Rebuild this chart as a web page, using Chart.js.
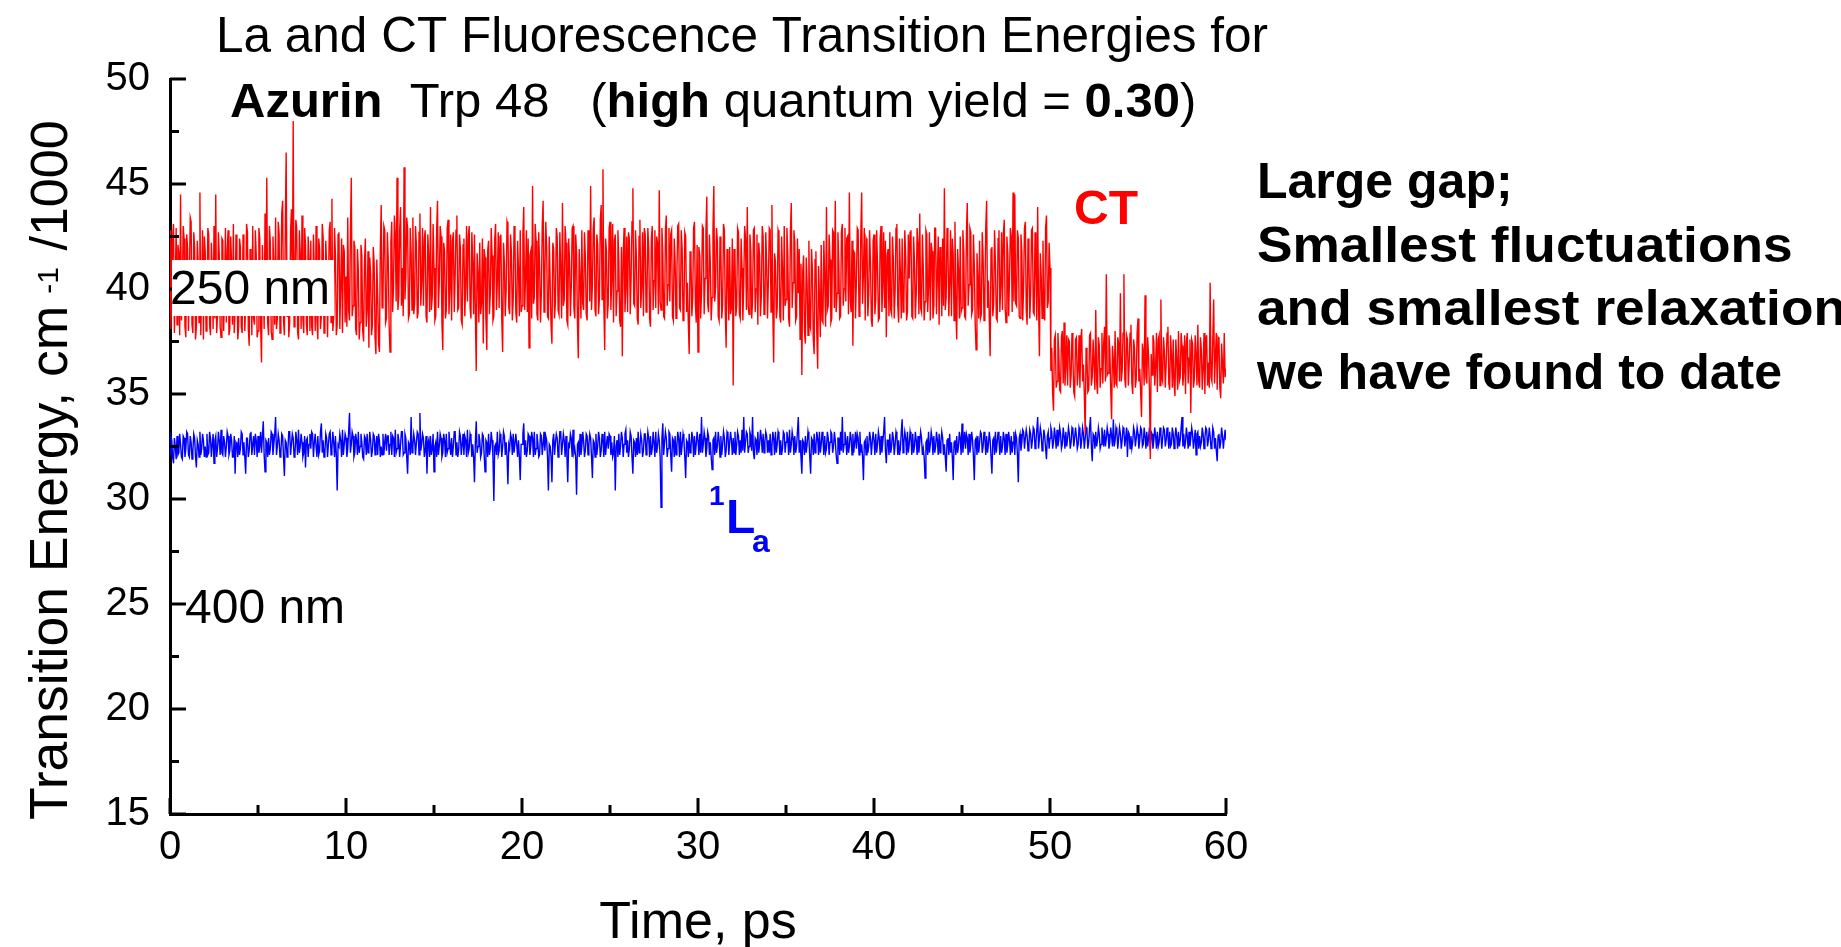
<!DOCTYPE html>
<html>
<head>
<meta charset="utf-8">
<title>La and CT Fluorescence Transition Energies</title>
<script src="https://cdn.jsdelivr.net/npm/chart.js@4.4.0/dist/chart.umd.min.js"></script>
<style>
	html, body { margin: 0; padding: 0; background: #fff; }
	canvas { display: block; }
</style>
</head>
<body>
<canvas id="myChart" width="1841" height="947"></canvas>
<script>
const FONT = "'Liberation Sans', Arial, sans-serif"

const timeStep = 0.05
const xTicks = [0, 10, 20, 30, 40, 50, 60]
const xMinorTicks = [5, 15, 25, 35, 45, 55]
const yTicks = [15, 20, 25, 30, 35, 40, 45, 50]
const yMinorTicks = [17.5, 22.5, 27.5, 32.5, 37.5, 42.5, 47.5]

// CT transition energy (cm-1 / 1000), one value every 0.05 ps, 2 ps per line
const ctValues = [
	42.8, 38.1, 39.6, 42.5, 43.1, 37.9, 40.2, 42.9, 38.3, 42.1, 41.7, 37.8, 44.5, 38.5, 39.8, 43.0, 42.4, 38.2, 37.7, 42.6, 41.9, 38.0, 40.5, 43.4, 43.2, 38.3, 37.9, 42.7, 42.0, 37.6, 38.2, 42.3, 41.3, 38.4, 44.6, 37.8, 40.0, 42.8, 37.6, 42.5,
	41.8, 38.0, 39.2, 42.9, 42.6, 38.3, 37.8, 42.2, 40.9, 38.1, 43.0, 38.6, 44.5, 37.9, 38.7, 42.7, 41.6, 38.2, 37.7, 42.4, 42.3, 38.0, 40.1, 42.9, 38.4, 41.8, 42.8, 37.8, 38.1, 42.5, 41.2, 38.3, 43.1, 37.9, 39.0, 42.6, 40.6, 37.6, 38.2, 42.4,
	42.0, 38.2, 37.9, 42.6, 41.5, 38.0, 39.3, 43.1, 42.7, 38.1, 37.3, 41.9, 40.8, 37.8, 43.0, 38.6, 38.3, 42.8, 41.6, 37.7, 38.0, 42.9, 42.4, 38.2, 36.5, 42.1, 40.3, 38.1, 43.6, 39.0, 45.3, 38.4, 37.8, 43.0, 42.2, 38.0, 37.6, 42.5, 41.0, 38.3,
	43.4, 38.1, 38.6, 43.2, 42.6, 37.9, 40.1, 43.6, 44.2, 38.5, 37.8, 42.8, 46.5, 38.7, 41.2, 37.7, 38.4, 42.7, 43.8, 38.9, 48.0, 38.2, 40.4, 43.3, 42.9, 38.0, 37.6, 42.8, 41.7, 38.1, 43.5, 38.6, 37.9, 42.9, 42.1, 38.3, 37.8, 42.5, 41.4, 38.0,
	42.3, 38.2, 37.8, 42.6, 40.8, 38.0, 43.0, 38.5, 37.6, 42.4, 41.9, 38.1, 38.7, 43.1, 42.5, 37.9, 38.3, 42.3, 41.1, 37.7, 40.0, 42.8, 43.2, 38.4, 44.3, 38.0, 38.6, 42.9, 41.6, 37.8, 38.3, 42.6, 42.7, 38.1, 40.2, 42.4, 37.9, 42.1, 41.8, 38.4,
	40.6, 38.2, 43.4, 39.0, 38.5, 42.6, 45.3, 38.7, 39.2, 42.3, 42.0, 38.1, 37.8, 41.9, 40.9, 37.6, 38.4, 42.1, 41.6, 38.0, 37.5, 41.3, 42.4, 38.2, 39.0, 41.8, 37.2, 41.5, 40.7, 37.8, 38.3, 42.0, 41.2, 37.7, 36.9, 41.4, 39.6, 37.4, 37.0, 41.9,
	44.0, 39.1, 39.5, 43.0, 42.8, 38.4, 38.6, 42.7, 41.4, 38.3, 37.0, 42.2, 43.2, 38.9, 40.1, 43.5, 42.6, 39.4, 45.3, 39.0, 39.7, 42.8, 43.9, 39.2, 41.0, 38.7, 45.8, 39.5, 40.6, 43.4, 42.9, 38.6, 38.8, 42.9, 41.7, 39.0, 43.4, 38.8, 39.3, 43.0,
	42.1, 38.6, 38.9, 42.7, 43.6, 39.2, 40.4, 42.9, 39.2, 42.4, 42.8, 38.7, 38.4, 42.6, 41.5, 38.9, 43.9, 39.0, 39.6, 43.1, 41.0, 38.5, 38.7, 42.8, 44.2, 39.1, 40.3, 43.0, 42.5, 38.4, 37.1, 42.2, 41.8, 38.6, 39.0, 42.9, 43.3, 38.8, 40.0, 42.6,
	38.5, 42.3, 42.7, 38.9, 40.6, 42.8, 43.5, 39.0, 39.1, 42.6, 41.9, 38.5, 38.3, 42.1, 42.4, 38.7, 40.2, 43.0, 39.4, 42.5, 43.0, 39.1, 38.6, 42.7, 41.3, 38.8, 42.6, 38.9, 36.1, 41.7, 40.8, 38.4, 42.2, 38.8, 39.3, 42.4, 37.4, 41.9, 41.5, 38.6,
	37.1, 41.8, 42.3, 38.8, 39.8, 42.9, 41.6, 38.5, 38.7, 42.4, 43.1, 39.0, 40.4, 42.7, 39.1, 42.5, 42.6, 38.6, 37.0, 42.2, 41.2, 38.7, 40.0, 43.2, 43.0, 39.1, 38.8, 42.6, 41.7, 38.5, 39.5, 43.0, 42.4, 38.9, 38.4, 42.3, 40.9, 38.7, 42.8, 38.9,
	39.2, 42.6, 43.9, 39.0, 40.5, 42.8, 38.9, 42.4, 37.2, 41.6, 41.8, 38.6, 44.9, 39.3, 39.6, 43.1, 42.3, 38.8, 38.5, 42.7, 41.1, 38.4, 39.8, 43.0, 44.2, 38.9, 40.7, 43.2, 42.0, 38.7, 38.6, 42.5, 40.3, 38.3, 37.4, 42.2, 41.9, 38.6, 39.4, 42.9,
	42.5, 39.0, 38.8, 42.7, 40.9, 38.6, 44.1, 39.2, 39.5, 43.0, 42.2, 38.5, 38.3, 42.4, 41.4, 38.7, 40.1, 42.9, 43.0, 39.1, 38.6, 42.6, 41.7, 38.4, 36.7, 41.9, 40.4, 38.6, 42.8, 39.3, 39.0, 42.7, 41.5, 38.8, 38.5, 42.8, 42.3, 39.4, 44.9, 39.0,
	40.2, 42.9, 43.4, 39.0, 38.7, 42.6, 42.1, 38.8, 39.6, 43.3, 44.0, 39.5, 45.7, 39.2, 37.1, 42.4, 41.8, 38.6, 39.3, 42.9, 43.2, 39.0, 40.5, 43.1, 38.4, 42.3, 42.6, 38.7, 39.9, 42.8, 41.3, 38.5, 38.2, 42.0, 36.8, 41.6, 42.9, 38.9, 40.0, 42.5,
	38.9, 42.7, 42.4, 38.8, 40.6, 43.2, 44.8, 39.3, 39.2, 42.8, 41.5, 38.6, 38.3, 42.5, 43.3, 39.1, 40.1, 42.7, 38.7, 42.9, 42.6, 38.9, 39.5, 42.9, 41.9, 38.6, 38.2, 42.4, 43.0, 39.0, 40.4, 42.8, 39.1, 42.5, 42.2, 38.8, 44.7, 39.4, 39.0, 42.9,
	41.7, 38.7, 38.6, 42.8, 43.5, 39.2, 40.2, 42.9, 39.4, 42.6, 42.8, 38.7, 38.5, 42.4, 41.3, 38.6, 40.7, 43.0, 43.1, 39.1, 39.0, 42.8, 41.9, 38.5, 38.8, 42.7, 42.5, 38.9, 40.3, 38.4, 36.9, 41.8, 41.4, 38.7, 39.6, 42.9, 43.2, 39.3, 38.4, 42.1,
	37.0, 42.0, 41.6, 38.6, 39.8, 43.0, 42.9, 38.8, 40.5, 42.7, 44.4, 39.3, 38.9, 42.6, 41.2, 38.5, 39.6, 42.8, 44.9, 39.4, 40.1, 42.9, 42.3, 38.7, 38.5, 42.5, 41.7, 38.6, 39.3, 43.1, 42.8, 38.9, 37.2, 41.9, 40.6, 38.5, 42.0, 38.8, 39.1, 42.4,
	35.4, 41.9, 41.5, 38.7, 39.2, 42.9, 42.7, 38.8, 38.6, 42.4, 41.0, 38.5, 40.3, 43.0, 42.4, 39.0, 43.9, 39.2, 38.8, 42.6, 41.8, 38.6, 39.4, 42.8, 42.9, 38.9, 40.0, 42.6, 38.3, 42.2, 41.6, 38.7, 39.7, 43.0, 42.5, 38.8, 38.9, 42.7, 41.2, 38.6,
	40.4, 42.9, 42.8, 38.9, 44.0, 39.0, 36.5, 41.7, 41.3, 38.6, 39.1, 42.8, 42.6, 38.7, 38.4, 42.5, 40.9, 38.5, 43.0, 39.2, 39.5, 42.9, 41.7, 38.6, 38.2, 42.7, 44.1, 39.1, 40.3, 42.8, 42.2, 38.5, 38.7, 42.4, 39.8, 41.9, 37.6, 41.2, 35.9, 40.8,
	41.6, 38.0, 37.4, 41.5, 40.2, 37.8, 42.3, 38.3, 38.1, 41.9, 40.9, 37.6, 36.9, 41.4, 41.8, 37.9, 36.2, 41.1, 39.6, 37.7, 42.1, 38.5, 38.4, 42.3, 40.5, 38.2, 43.9, 39.0, 39.2, 42.6, 41.4, 38.4, 38.6, 42.8, 42.7, 39.1, 44.2, 38.9, 39.8, 42.7,
	41.2, 38.6, 38.7, 42.7, 43.1, 39.2, 40.0, 42.9, 39.4, 42.4, 42.5, 38.8, 44.6, 39.5, 38.9, 42.3, 37.3, 41.8, 41.7, 38.6, 40.4, 42.9, 42.8, 38.7, 39.1, 42.6, 44.6, 39.3, 40.8, 42.9, 38.5, 42.4, 42.2, 38.7, 39.7, 42.8, 41.3, 38.5, 38.2, 42.3,
	42.6, 38.8, 39.5, 42.8, 41.1, 38.5, 38.6, 42.4, 43.0, 38.9, 40.2, 42.7, 39.1, 42.3, 37.7, 41.6, 41.9, 38.7, 42.7, 39.0, 38.8, 42.5, 41.4, 38.6, 39.9, 42.9, 43.1, 39.2, 38.4, 42.4, 40.7, 38.6, 42.4, 38.9, 39.3, 42.8, 41.6, 38.5, 38.9, 42.6,
	40.5, 42.7, 42.8, 38.7, 38.6, 42.5, 41.3, 38.6, 39.8, 42.9, 42.2, 38.8, 43.6, 39.1, 38.9, 42.6, 41.0, 38.5, 39.4, 42.8, 42.6, 38.9, 40.1, 42.7, 38.5, 42.2, 41.8, 38.6, 39.2, 42.9, 42.9, 38.8, 40.6, 42.5, 38.3, 42.0, 41.5, 38.7, 42.4, 39.2,
	44.8, 39.0, 39.6, 42.9, 42.1, 38.7, 40.3, 42.8, 38.7, 42.4, 41.6, 38.5, 43.2, 39.1, 37.6, 41.9, 40.9, 38.6, 42.5, 38.9, 39.1, 42.8, 41.8, 38.7, 38.6, 42.6, 44.1, 39.2, 40.2, 42.9, 42.7, 38.8, 39.0, 42.6, 41.1, 38.4, 37.1, 41.7, 40.5, 38.6,
	42.3, 38.6, 38.8, 42.7, 41.5, 38.5, 39.7, 42.9, 44.2, 39.1, 40.4, 38.6, 36.8, 41.9, 42.0, 38.7, 39.3, 42.8, 41.2, 38.6, 38.5, 42.4, 42.8, 38.9, 40.1, 42.7, 39.0, 42.6, 43.3, 39.1, 38.4, 42.5, 41.7, 38.7, 40.6, 42.9, 42.5, 38.9, 44.6, 39.4,
	44.5, 39.3, 39.2, 42.8, 42.4, 38.7, 38.6, 42.6, 41.8, 38.5, 40.1, 42.9, 43.2, 39.0, 38.3, 42.4, 41.5, 38.6, 39.7, 42.8, 42.9, 38.9, 38.8, 42.7, 41.0, 38.5, 43.9, 39.2, 36.8, 41.7, 40.6, 38.6, 42.3, 38.9, 38.5, 42.9, 43.5, 39.1, 39.4, 42.2,
	41.0, 36.1, 37.2, 35.0, 34.2, 37.6, 37.8, 35.3, 35.6, 37.9, 36.9, 35.2, 35.1, 37.7, 38.0, 35.5, 38.4, 35.4, 36.3, 37.8, 35.4, 37.6, 37.5, 35.3, 35.9, 37.9, 36.8, 35.1, 34.9, 37.6, 37.7, 35.4, 36.1, 37.8, 35.3, 37.5, 38.1, 35.6, 36.4, 35.0,
	33.1, 37.2, 36.7, 35.1, 35.2, 37.8, 37.9, 35.4, 35.8, 37.6, 36.4, 35.2, 39.0, 35.6, 35.0, 37.7, 37.3, 35.3, 36.2, 37.9, 35.5, 37.4, 38.2, 35.6, 40.7, 35.9, 36.0, 37.8, 37.1, 35.2, 33.8, 37.3, 36.6, 35.3, 38.0, 35.5, 35.4, 37.7, 37.4, 35.6,
	39.8, 35.6, 36.1, 37.9, 40.7, 35.7, 35.3, 37.8, 37.6, 35.4, 36.5, 37.9, 38.3, 35.5, 35.0, 37.6, 37.2, 35.3, 35.7, 37.9, 38.6, 35.6, 36.2, 35.1, 33.9, 37.4, 37.0, 35.4, 39.7, 35.8, 35.5, 37.7, 36.8, 35.2, 31.9, 36.9, 35.9, 37.8, 37.5, 35.4,
	36.3, 37.9, 35.1, 37.6, 37.8, 35.4, 39.5, 35.8, 35.6, 37.7, 37.0, 35.3, 36.4, 37.9, 38.2, 35.5, 35.2, 37.8, 36.9, 35.3, 37.6, 35.5, 34.9, 37.6, 36.6, 35.2, 38.0, 35.6, 35.8, 37.9, 37.3, 35.4, 36.0, 37.8, 35.0, 37.5, 37.9, 35.5, 36.7, 37.6,
	34.1, 37.6, 37.4, 35.3, 35.7, 37.8, 36.9, 35.4, 38.3, 35.6, 35.3, 37.7, 37.1, 35.2, 36.2, 37.9, 35.0, 37.5, 37.8, 35.4, 36.5, 35.3, 40.3, 35.8, 35.6, 37.6, 39.5, 35.5, 36.8, 37.9, 35.2, 37.7, 37.6, 35.3, 34.8, 37.4, 36.4, 35.5, 37.9, 35.8,
	36.2,
]

// 1La transition energy (cm-1 / 1000), one value every 0.05 ps, 2 ps per line
const laValues = [
	32.1, 33.0, 32.8, 32.0, 31.7, 32.9, 32.5, 31.9, 33.0, 32.1, 32.2, 33.1, 32.6, 32.0, 31.9, 33.0, 32.9, 32.0, 32.4, 33.2, 33.1, 32.1, 32.0, 33.0, 32.7, 31.9, 32.3, 33.1, 32.9, 32.0, 31.5, 32.8, 32.6, 32.0, 33.2, 32.1, 32.4, 33.1, 32.8, 32.0,
	32.5, 32.0, 33.1, 32.1, 32.2, 33.2, 32.9, 32.0, 32.6, 33.1, 31.7, 32.8, 33.0, 32.0, 32.4, 33.2, 32.8, 32.1, 33.3, 32.2, 32.1, 33.0, 32.7, 32.0, 32.5, 33.2, 33.0, 32.1, 32.3, 33.1, 32.8, 32.0, 32.0, 33.0, 31.2, 32.7, 32.6, 32.0, 32.9, 32.1,
	32.4, 33.2, 33.1, 32.1, 32.7, 32.0, 31.2, 32.9, 32.9, 32.0, 32.3, 33.1, 33.2, 32.1, 32.6, 33.0, 32.1, 33.1, 32.8, 32.0, 33.0, 32.2, 32.5, 33.2, 32.2, 33.0, 33.7, 32.1, 31.3, 32.8, 32.7, 32.0, 32.9, 32.1, 32.4, 33.2, 33.1, 32.1, 32.6, 33.1,
	33.9, 32.1, 32.5, 33.1, 32.8, 32.0, 32.2, 33.1, 33.0, 32.0, 31.1, 32.8, 32.7, 32.0, 32.4, 33.2, 33.2, 32.1, 32.6, 33.1, 32.9, 32.0, 32.1, 33.2, 32.8, 32.1, 33.3, 32.2, 32.5, 33.1, 32.7, 32.0, 32.2, 33.0, 31.5, 32.8, 32.9, 32.0, 32.6, 33.1,
	32.4, 33.2, 33.1, 32.0, 32.7, 33.1, 32.5, 32.0, 33.0, 32.1, 32.3, 33.2, 33.6, 32.2, 32.8, 32.0, 32.2, 33.1, 32.9, 32.0, 32.6, 33.1, 33.2, 32.1, 32.4, 33.2, 32.7, 32.0, 33.0, 32.1, 30.4, 32.6, 32.5, 33.1, 32.8, 32.0, 33.3, 32.1, 32.6, 33.1,
	32.9, 32.0, 32.4, 33.2, 34.1, 32.2, 32.6, 33.2, 33.0, 32.0, 32.2, 33.1, 32.8, 32.1, 33.2, 32.2, 32.5, 33.1, 32.7, 32.0, 31.9, 33.0, 32.9, 32.1, 33.1, 32.2, 32.4, 33.2, 32.8, 32.0, 32.3, 33.1, 33.0, 32.1, 32.6, 33.0, 32.1, 33.1, 32.8, 32.0,
	32.5, 32.1, 33.1, 32.1, 32.7, 33.1, 32.3, 33.0, 33.0, 32.1, 32.6, 33.2, 32.1, 33.0, 32.9, 32.0, 33.3, 32.2, 32.4, 33.1, 32.8, 32.0, 32.6, 33.2, 33.2, 32.1, 32.2, 33.1, 32.9, 32.0, 31.2, 32.7, 32.6, 32.1, 33.9, 32.2, 32.5, 33.1, 32.8, 32.1,
	32.7, 33.2, 33.1, 32.1, 34.1, 32.3, 32.6, 33.1, 32.9, 32.0, 32.3, 33.0, 31.2, 32.6, 32.8, 32.0, 33.0, 32.1, 32.4, 33.1, 31.3, 32.5, 32.7, 32.0, 33.2, 32.1, 32.5, 33.1, 32.9, 32.0, 32.2, 33.1, 32.8, 32.0, 33.1, 32.2, 32.4, 33.2, 32.6, 32.1,
	32.9, 32.0, 32.5, 33.2, 33.2, 32.1, 32.7, 32.0, 32.3, 33.2, 33.0, 32.1, 32.6, 33.1, 32.1, 33.0, 32.8, 32.0, 33.3, 32.2, 32.4, 33.1, 32.9, 32.0, 32.6, 32.0, 30.8, 32.7, 33.7, 32.2, 32.5, 33.1, 32.8, 32.0, 32.2, 33.1, 33.0, 32.1, 31.3, 32.8,
	32.7, 32.0, 33.1, 32.1, 32.4, 33.2, 32.8, 32.0, 29.9, 32.5, 32.6, 32.1, 33.2, 32.1, 32.3, 33.1, 32.9, 32.0, 32.5, 33.2, 33.0, 32.1, 32.7, 32.0, 30.7, 32.6, 32.4, 33.1, 32.9, 32.1, 33.1, 32.2, 32.2, 33.1, 32.6, 32.0, 32.8, 32.0, 30.9, 32.6,
	32.6, 33.1, 33.6, 32.1, 32.8, 32.0, 32.3, 33.1, 33.0, 32.1, 32.5, 33.2, 32.9, 32.0, 33.2, 32.1, 32.4, 33.1, 32.7, 32.0, 32.1, 33.1, 33.0, 32.1, 32.6, 33.2, 32.3, 33.0, 32.8, 32.0, 30.4, 32.6, 32.5, 32.0, 30.8, 32.8, 33.1, 32.1, 32.7, 33.1,
	32.9, 32.0, 32.4, 33.2, 33.2, 32.1, 32.6, 33.1, 32.8, 32.0, 33.0, 32.1, 30.8, 32.6, 32.5, 33.1, 32.9, 32.0, 33.3, 32.2, 32.4, 32.0, 30.2, 32.6, 32.7, 32.0, 33.1, 32.1, 32.5, 33.2, 32.8, 32.0, 32.3, 33.1, 33.0, 32.1, 32.6, 33.1, 32.9, 32.0,
	31.0, 32.8, 32.7, 32.0, 33.1, 32.1, 32.5, 33.2, 32.9, 32.0, 32.3, 33.1, 32.8, 32.0, 33.2, 32.1, 32.6, 33.0, 32.4, 33.1, 33.0, 32.1, 32.7, 32.0, 32.2, 33.0, 30.4, 32.5, 32.8, 32.0, 33.1, 32.1, 32.5, 33.2, 32.9, 32.0, 32.6, 33.1, 33.3, 32.2,
	32.8, 32.0, 32.4, 33.2, 33.0, 32.0, 31.2, 32.8, 32.7, 32.0, 32.9, 32.1, 33.2, 32.2, 32.5, 33.1, 32.8, 32.0, 32.3, 33.1, 33.1, 32.1, 32.6, 33.2, 32.9, 32.0, 33.0, 32.1, 32.4, 33.2, 32.7, 32.0, 33.2, 32.2, 32.5, 33.1, 32.8, 32.0, 29.6, 32.9,
	33.6, 32.1, 32.7, 33.2, 32.9, 32.0, 32.4, 33.2, 33.1, 32.1, 31.3, 32.9, 32.8, 32.0, 33.0, 32.1, 32.5, 33.2, 32.9, 32.0, 33.2, 32.1, 32.6, 33.1, 32.8, 32.0, 31.0, 32.8, 32.7, 32.0, 33.1, 32.2, 32.4, 33.2, 32.9, 32.0, 33.0, 32.1, 32.6, 33.2,
	32.8, 32.1, 33.1, 32.2, 33.9, 32.2, 32.6, 33.2, 32.9, 32.0, 32.4, 33.2, 33.0, 32.1, 32.7, 32.0, 31.4, 32.8, 32.9, 32.1, 33.2, 32.2, 32.5, 33.2, 32.8, 32.0, 33.0, 32.1, 32.6, 33.2, 32.9, 32.0, 32.3, 33.2, 33.1, 32.1, 32.7, 33.2, 32.8, 32.1,
	32.9, 32.2, 33.2, 32.1, 32.6, 33.2, 33.0, 32.1, 32.8, 32.2, 33.3, 32.3, 33.9, 32.2, 32.7, 33.2, 33.1, 32.2, 32.5, 33.2, 33.0, 32.3, 33.9, 32.2, 31.9, 32.9, 32.8, 32.1, 33.2, 32.2, 32.6, 33.3, 32.9, 32.2, 33.1, 32.2, 32.7, 33.2, 33.0, 32.2,
	32.8, 32.2, 33.1, 32.1, 32.5, 33.2, 32.9, 32.1, 33.2, 32.2, 32.6, 33.2, 33.0, 32.1, 32.8, 32.1, 32.4, 33.2, 33.1, 32.2, 32.7, 33.2, 32.9, 32.1, 33.3, 32.2, 32.6, 33.2, 32.9, 32.1, 33.0, 32.2, 32.5, 33.2, 33.9, 32.2, 32.8, 32.0, 31.2, 32.8,
	32.7, 32.1, 33.0, 32.2, 32.6, 33.2, 32.9, 32.0, 31.2, 32.9, 32.8, 32.1, 33.1, 32.2, 32.5, 33.2, 32.9, 32.1, 33.2, 32.2, 32.6, 33.2, 32.8, 32.1, 33.0, 32.2, 32.4, 33.2, 32.9, 32.1, 32.7, 33.2, 33.1, 32.2, 32.5, 33.2, 32.8, 32.1, 31.7, 32.9,
	32.9, 32.1, 33.2, 32.3, 33.9, 32.2, 32.6, 33.2, 32.8, 32.1, 33.0, 32.2, 32.5, 33.2, 32.9, 32.1, 33.1, 32.2, 32.7, 33.2, 32.4, 33.1, 32.9, 32.1, 33.2, 32.2, 32.6, 32.0, 30.9, 32.7, 32.8, 32.1, 33.0, 32.2, 32.5, 33.2, 32.9, 32.1, 32.7, 33.2,
	32.8, 32.1, 33.1, 32.2, 32.6, 33.2, 32.9, 32.1, 33.0, 32.2, 32.7, 33.2, 33.9, 32.3, 31.7, 32.8, 32.8, 32.1, 33.1, 32.2, 32.5, 33.2, 32.9, 32.1, 32.6, 33.2, 33.0, 32.1, 32.8, 32.1, 32.4, 33.2, 33.8, 32.2, 32.7, 33.2, 32.9, 32.1, 33.2, 32.2,
	32.6, 33.2, 32.9, 32.1, 33.1, 32.2, 32.5, 33.2, 32.8, 32.1, 33.0, 32.2, 32.7, 33.2, 32.9, 32.1, 32.4, 32.0, 31.0, 32.7, 32.8, 32.1, 33.2, 32.2, 32.6, 33.2, 32.9, 32.1, 33.0, 32.2, 32.5, 33.2, 32.8, 32.1, 33.1, 32.2, 32.7, 33.2, 32.9, 32.1,
	32.6, 32.0, 31.3, 32.8, 32.9, 32.1, 33.1, 32.2, 32.7, 32.0, 30.9, 32.7, 32.8, 32.1, 33.0, 32.2, 32.5, 33.2, 32.9, 32.1, 33.6, 32.2, 32.7, 33.2, 32.4, 33.1, 32.9, 32.1, 33.1, 32.2, 32.6, 33.2, 32.8, 32.0, 30.9, 32.8, 32.9, 32.1, 33.0, 32.2,
	32.7, 33.2, 33.1, 32.2, 32.5, 33.2, 32.9, 32.1, 33.0, 32.2, 32.6, 33.2, 32.8, 32.0, 31.2, 32.8, 32.9, 32.1, 33.2, 32.2, 32.7, 33.2, 32.8, 32.1, 33.0, 32.2, 32.5, 33.2, 32.9, 32.1, 33.1, 32.2, 32.6, 33.2, 32.8, 32.1, 33.0, 32.2, 32.7, 33.2,
	32.1, 33.1, 32.9, 32.1, 30.8, 32.9, 33.1, 32.3, 32.7, 33.3, 33.2, 32.4, 32.9, 33.3, 33.0, 32.3, 32.6, 33.3, 33.1, 32.4, 32.8, 33.4, 33.3, 32.4, 32.7, 33.3, 33.9, 32.4, 32.9, 33.4, 33.1, 32.3, 32.6, 33.3, 33.0, 32.4, 31.9, 33.0, 33.2, 32.4,
	32.9, 33.4, 33.2, 32.4, 32.7, 33.4, 33.0, 32.4, 33.3, 32.5, 32.8, 33.4, 33.1, 32.4, 32.6, 33.4, 33.0, 32.4, 33.2, 32.5, 32.9, 33.4, 33.1, 32.4, 32.7, 33.4, 33.3, 32.5, 32.9, 33.4, 33.0, 32.4, 32.6, 33.4, 33.2, 32.4, 32.8, 33.4, 33.1, 32.4,
	32.9, 33.4, 33.2, 32.4, 32.7, 33.4, 33.9, 32.5, 31.8, 33.1, 33.0, 32.4, 33.2, 32.5, 32.8, 33.4, 33.1, 32.4, 32.6, 33.4, 33.0, 32.5, 33.3, 32.5, 32.9, 33.4, 33.1, 32.4, 32.7, 33.4, 33.0, 32.5, 33.8, 32.5, 32.8, 33.4, 33.2, 32.4, 32.9, 33.4,
	33.1, 32.4, 32.8, 33.4, 33.3, 32.5, 32.9, 33.4, 32.0, 33.2, 33.1, 32.4, 33.0, 32.4, 32.7, 33.4, 33.2, 32.5, 32.9, 33.4, 33.1, 32.4, 32.8, 33.4, 33.3, 32.5, 32.6, 33.4, 33.0, 32.4, 33.2, 32.5, 32.9, 33.4, 32.3, 33.2, 33.1, 32.4, 32.8, 33.4,
	33.0, 32.4, 33.2, 32.5, 32.7, 33.4, 33.1, 32.4, 32.9, 33.4, 33.3, 32.5, 32.8, 33.4, 33.0, 32.4, 33.2, 32.5, 32.6, 33.4, 33.1, 32.4, 32.9, 33.4, 33.0, 32.4, 33.2, 32.5, 32.8, 33.4, 33.9, 32.5, 33.1, 32.4, 32.7, 33.4, 33.0, 32.4, 33.2, 32.5,
	32.9, 33.4, 33.1, 32.4, 32.8, 33.3, 32.1, 33.1, 33.2, 32.4, 33.0, 32.5, 32.7, 33.4, 33.1, 32.4, 32.9, 33.4, 33.3, 32.5, 32.8, 33.4, 33.0, 32.4, 32.6, 33.4, 33.2, 32.4, 32.9, 32.3, 31.8, 33.0, 33.1, 32.4, 32.7, 33.4, 33.0, 32.4, 32.9, 33.3,
	32.8,
]

function toPoints(values) {
	return values.map((v, i) => ({ x: Math.round(i * timeStep * 100) / 100, y: v }))
}

function drawRuns(ctx, runs, x, y, stretch = 1) {
	ctx.save()
	ctx.translate(x, y)
	ctx.scale(stretch, 1)
	let cx = 0
	for (const r of runs) {
		ctx.font = (r.bold ? 'bold ' : '') + r.size + 'px ' + FONT
		ctx.fillText(r.text, cx, -(r.raise || 0))
		cx += ctx.measureText(r.text).width + (r.gap || 0)
	}
	ctx.restore()
}

const decorations = {
	id: 'decorations',
	afterDatasetsDraw(chart) {
		const ctx = chart.ctx
		const xs = chart.scales.x
		const ys = chart.scales.y
		const { left, bottom } = chart.chartArea

		ctx.save()
		ctx.strokeStyle = '#000'
		ctx.lineWidth = 3
		ctx.beginPath()
		yTicks.forEach(v => {
			const py = ys.getPixelForValue(v)
			ctx.moveTo(left, py)
			ctx.lineTo(left + 16, py)
		})
		yMinorTicks.forEach(v => {
			const py = ys.getPixelForValue(v)
			ctx.moveTo(left, py)
			ctx.lineTo(left + 9, py)
		})
		xTicks.forEach(v => {
			const px = xs.getPixelForValue(v)
			ctx.moveTo(px, bottom)
			ctx.lineTo(px, bottom - 16)
		})
		xMinorTicks.forEach(v => {
			const px = xs.getPixelForValue(v)
			ctx.moveTo(px, bottom)
			ctx.lineTo(px, bottom - 9)
		})
		ctx.stroke()

		ctx.textAlign = 'left'
		ctx.textBaseline = 'alphabetic'

		// white label box over the CT trace
		ctx.fillStyle = '#fff'
		ctx.fillRect(left + 2, 260, 162, 56)
		ctx.fillStyle = '#000'
		drawRuns(ctx, [{ text: '250 nm', size: 48 }], 170, 304)
		drawRuns(ctx, [{ text: '400 nm', size: 48 }], 185, 623)

		drawRuns(ctx, [{ text: 'La and CT Fluorescence Transition Energies for', size: 49.5 }], 216, 52)
		drawRuns(ctx, [
			{ text: 'Azurin', size: 49, bold: true },
			{ text: '  Trp 48   (', size: 49 },
			{ text: 'high', size: 49, bold: true },
			{ text: ' quantum yield = ', size: 49 },
			{ text: '0.30', size: 49, bold: true },
			{ text: ')', size: 49 },
		], 230, 117)

		const notes = ['Large gap;', 'Smallest fluctuations', 'and smallest relaxation', 'we have found to date']
		const noteStretch = [1, 1.065, 1.065, 1]
		notes.forEach((line, i) => {
			drawRuns(ctx, [{ text: line, size: 50, bold: true }], 1257, 198 + i * 63.7, noteStretch[i])
		})

		ctx.fillStyle = '#ff0000'
		drawRuns(ctx, [{ text: 'CT', size: 48, bold: true }], 1074, 224)

		ctx.fillStyle = '#0000ff'
		drawRuns(ctx, [{ text: '1', size: 28, bold: true }], 709, 505)
		drawRuns(ctx, [{ text: 'L', size: 48, bold: true }], 726, 533)
		drawRuns(ctx, [{ text: 'a', size: 32, bold: true }], 752, 552)

		ctx.fillStyle = '#000'
		ctx.textAlign = 'center'
		drawRuns(ctx, [{ text: 'Time, ps', size: 52 }], (xs.left + xs.right) / 2, 938)

		ctx.textAlign = 'left'
		ctx.translate(67, 820)
		ctx.rotate(-Math.PI / 2)
		drawRuns(ctx, [
			{ text: 'Transition Energy, cm', size: 53.5, gap: 12 },
			{ text: '-1', size: 30, raise: 9, gap: 2 },
			{ text: ' /1000', size: 52 },
		], 0, 0)
		ctx.restore()
	},
}

const ctx = document.getElementById('myChart').getContext('2d')
const myChart = new Chart(ctx, {
	type: 'line',
	data: {
		datasets: [
			{
				label: 'CT',
				data: toPoints(ctValues),
				borderColor: '#ff0000',
				borderWidth: 1.4,
				pointRadius: 0,
				tension: 0,
			},
			{
				label: '1La',
				data: toPoints(laValues),
				borderColor: '#0000ff',
				borderWidth: 1.4,
				pointRadius: 0,
				tension: 0,
			},
		],
	},
	options: {
		responsive: false,
		animation: false,
		devicePixelRatio: 1,
		events: [],
		layout: { padding: { left: 0, top: 79, right: 615, bottom: 0 } },
		plugins: {
			legend: { display: false },
			tooltip: { enabled: false },
		},
		scales: {
			x: {
				type: 'linear',
				min: 0,
				max: 60,
				afterFit: s => { s.height = 133 },
				afterBuildTicks: s => { s.ticks = xTicks.map(v => ({ value: v })) },
				ticks: { color: '#000', font: { family: FONT, size: 40 }, padding: 10, maxRotation: 0 },
				grid: { drawOnChartArea: false, drawTicks: false },
				border: { display: true, color: '#000', width: 3 },
			},
			y: {
				min: 15,
				max: 50,
				afterFit: s => { s.width = 170 },
				afterBuildTicks: s => { s.ticks = yTicks.map(v => ({ value: v })) },
				ticks: { color: '#000', font: { family: FONT, size: 40 }, padding: 20 },
				grid: { drawOnChartArea: false, drawTicks: false },
				border: { display: true, color: '#000', width: 3 },
			},
		},
	},
	plugins: [decorations],
})
</script>
</body>
</html>
